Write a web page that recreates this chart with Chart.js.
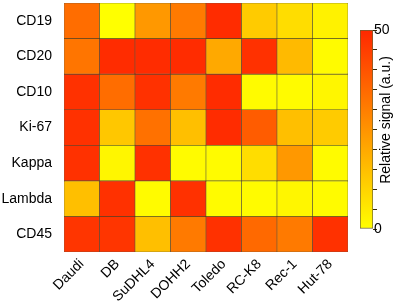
<!DOCTYPE html>
<html>
<head>
<meta charset="utf-8">
<script src="https://cdn.jsdelivr.net/npm/chart.js@4.4.1/dist/chart.umd.min.js"></script>
<style>
    html, body { margin: 0; padding: 0; background: #fff; }
    #wrap { position: relative; width: 396px; height: 302px; }
    #heat { position: absolute; left: 0; top: 0; }
    #bar { position: absolute; left: 346px; top: 0; }
</style>
</head>
<body>
<div id="wrap">
    <canvas id="heat" width="350" height="302"></canvas>
    <canvas id="bar" width="50" height="302"></canvas>
</div>
<script>
// cell lines (columns) and markers (rows, top to bottom)
const cellLines = ['Daudi', 'DB', 'SuDHL4', 'DOHH2', 'Toledo', 'RC-K8', 'Rec-1', 'Hut-78'];
const markers = ['CD19', 'CD20', 'CD10', 'Ki-67', 'Kappa', 'Lambda', 'CD45'];

// relative signal per marker, one value per cell line
const cd19 = [34, 0, 24, 31, 49, 12, 8, 3];
const cd20 = [32, 49, 49, 49, 20, 48, 16, 1];
const cd10 = [48, 34, 48, 31, 49, 1, 1, 2];
const ki67 = [48, 13, 33, 15, 49, 38, 15, 12];
const kappa = [48, 2, 48, 1, 1, 8, 24, 1];
const lambda = [15, 48, 1, 48, 1, 1, 2, 1];
const cd45 = [47, 47, 15, 31, 48, 35, 31, 48];
const signalRows = [cd19, cd20, cd10, ki67, kappa, lambda, cd45];

const scaleMin = 0;
const scaleMax = 50;
const scaleTicks = [0, 50];

const FONT = 'Liberation Sans, Arial, sans-serif';

// yellow -> red
function signalColor(v) {
    const t = Math.max(0, Math.min(1, (v - scaleMin) / (scaleMax - scaleMin)));
    const g = Math.round(255 - t * 215);
    return `rgb(255, ${g}, 0)`;
}

const heatDatasets = signalRows.map((values, r) => ({
    label: markers[r],
    data: values.map(() => [r, r + 1]),
    backgroundColor: values.map(signalColor),
    borderColor: 'rgba(50, 45, 20, 0.8)',
    borderWidth: 0.6,
    borderSkipped: false,
    barPercentage: 1,
    categoryPercentage: 1,
    grouped: false,
}));

new Chart(document.getElementById('heat'), {
    type: 'bar',
    data: { labels: cellLines, datasets: heatDatasets },
    options: {
        responsive: false,
        animation: false,
        events: [],
        layout: { padding: { top: 3, right: 2, left: 0, bottom: 0 } },
        plugins: { legend: { display: false }, tooltip: { enabled: false } },
        scales: {
            x: {
                grid: { display: false, drawTicks: false },
                border: { display: false },
                ticks: {
                    color: '#000',
                    font: { family: FONT, size: 14 },
                    maxRotation: 45,
                    minRotation: 45,
                    padding: 4,
                },
                afterFit: (axis) => {
                    axis.height = 50;
                    axis.paddingLeft = 0;
                    axis.paddingRight = 0;
                },
            },
            y: {
                min: 0,
                max: markers.length,
                reverse: true,
                grid: { display: false, drawTicks: false },
                border: { display: false },
                afterBuildTicks: (axis) => {
                    axis.ticks = markers.map((m, i) => ({ value: i + 0.5 }));
                },
                ticks: {
                    color: '#000',
                    font: { family: FONT, size: 14 },
                    padding: 12,
                    callback: (v) => markers[Math.floor(v)],
                },
                afterFit: (axis) => {
                    axis.width = 64;
                    axis.paddingTop = 0;
                    axis.paddingBottom = 0;
                },
            },
        },
    },
});

// colour bar legend
const titlePlugin = {
    id: 'barTitle',
    afterDraw(chart) {
        const ctx = chart.ctx;
        ctx.save();
        ctx.translate(40, 120);
        ctx.rotate(-Math.PI / 2);
        ctx.font = `14px ${FONT}`;
        ctx.fillStyle = '#000';
        ctx.textAlign = 'center';
        ctx.textBaseline = 'middle';
        ctx.fillText('Relative signal (a.u.)', 0, 0);
        ctx.restore();
    },
};

new Chart(document.getElementById('bar'), {
    type: 'bar',
    data: {
        labels: [''],
        datasets: [{
            data: [[scaleMin, scaleMax]],
            backgroundColor: (c) => {
                const area = c.chart.chartArea;
                if (!area) return signalColor(scaleMax);
                const grad = c.chart.ctx.createLinearGradient(0, area.bottom, 0, area.top);
                grad.addColorStop(0, signalColor(scaleMin));
                grad.addColorStop(1, signalColor(scaleMax));
                return grad;
            },
            borderColor: 'rgba(90, 80, 30, 0.9)',
            borderWidth: 1,
            borderSkipped: false,
            barPercentage: 1,
            categoryPercentage: 1,
        }],
    },
    options: {
        responsive: false,
        animation: false,
        events: [],
        layout: { padding: { top: 30, left: 14, bottom: 73, right: 0 } },
        plugins: { legend: { display: false }, tooltip: { enabled: false } },
        scales: {
            x: { display: false },
            y: {
                position: 'right',
                z: 1,
                min: scaleMin,
                max: scaleMax,
                border: { display: false },
                grid: {
                    drawOnChartArea: false,
                    drawTicks: true,
                    tickLength: 4,
                    lineWidth: 1,
                    color: 'rgba(50, 40, 10, 1)',
                },
                ticks: {
                    stepSize: 5,
                    autoSkip: false,
                    color: '#000',
                    font: { family: FONT, size: 14 },
                    padding: -3,
                    callback: (v) => (scaleTicks.includes(v) ? String(v) : ''),
                },
                afterFit: (axis) => {
                    axis.width = 23;
                    axis.paddingTop = 0;
                    axis.paddingBottom = 0;
                },
            },
        },
    },
    plugins: [titlePlugin],
});
</script>
</body>
</html>
